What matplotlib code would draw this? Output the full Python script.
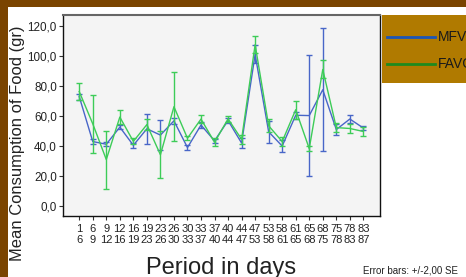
import matplotlib
matplotlib.use("Agg")
import matplotlib.pyplot as plt
from matplotlib import font_manager as fm
from matplotlib.patches import Rectangle
from matplotlib.lines import Line2D

periods_lo = [1, 6, 9, 12, 16, 19, 23, 26, 30, 33, 37, 40, 44, 47, 53, 58, 61, 65, 68, 75, 78, 83]
periods_hi = [6, 9, 12, 16, 19, 23, 26, 30, 33, 37, 40, 44, 47, 53, 58, 61, 65, 68, 75, 78, 83, 87]

mfvc_mean = [72.9, 43.0, 41.2, 52.6, 40.5, 51.5, 47.3, 56.8, 39.0, 54.0, 43.5, 57.0, 42.0, 101.0,
             49.5, 40.0, 60.5, 60.3, 77.5, 51.0, 58.0, 52.0]
mfvc_err = [2.1, 1.4, 1.4, 1.2, 1.5, 10.0, 10.2, 2.0, 1.4, 1.8, 1.5, 1.5, 3.5, 6.0,
            7.5, 4.0, 2.2, 40.4, 41.0, 3.8, 2.8, 1.3]
favc_mean = [76.3, 54.8, 31.0, 59.3, 43.1, 54.3, 34.2, 66.2, 45.2, 58.0, 42.5, 58.1, 44.5, 107.5,
             53.5, 43.0, 64.2, 38.3, 91.0, 52.3, 51.7, 49.7]
favc_err = [5.5, 19.2, 19.3, 4.5, 2.0, 3.9, 15.8, 22.8, 1.4, 2.8, 2.7, 2.2, 3.0, 5.7,
            4.2, 3.3, 6.0, 1.6, 6.0, 3.0, 3.1, 3.3]

yticks = [0, 20, 40, 60, 80, 100, 120]
ytick_labels = ["0,0", "20,0", "40,0", "60,0", "80,0", "100,0", "120,0"]

names = {f.name for f in fm.fontManager.ttflist}
narrow = "Liberation Sans Narrow" if "Liberation Sans Narrow" in names else "Liberation Sans"
plt.rcParams['font.family'] = ['Liberation Sans', 'DejaVu Sans']

W, H = 466, 277
fig = plt.figure(figsize=(W / 100, H / 100), dpi=100, facecolor='#7A4400')
# white inner area
fig.patches.append(Rectangle((8 / W, 0), 1, 1 - 7 / H, transform=fig.transFigure,
                             facecolor='white', edgecolor='none', zorder=-5))

ax = fig.add_axes([63 / W, 1 - 216 / H, (380 - 63) / W, (216 - 15) / H])
ax.set_zorder(2)
ax.set_facecolor('#F4F4F4')

x = list(range(len(periods_lo)))
blue = '#4866C8'
green = '#3DCC58'
ax.errorbar(x, mfvc_mean, yerr=mfvc_err, color=blue, lw=1.0, elinewidth=1.0,
            capsize=2, capthick=1.0, zorder=3)
ax.errorbar(x, favc_mean, yerr=favc_err, color=green, lw=1.0, elinewidth=1.0,
            capsize=2, capthick=1.0, zorder=4)

ax.set_xlim(-1.2, len(x) - 1 + 1.23)
ax.set_ylim(-6.6, 127.3)
ax.set_yticks(yticks)
yfs = 9.7 if narrow != "Liberation Sans" else 8.4
ax.set_yticklabels(ytick_labels, fontfamily=narrow, fontsize=yfs, color='#222222')
ax.set_xticks(x)
xfs = 9.7 if narrow != "Liberation Sans" else 8.0
ax.set_xticklabels([f"{a}\n{b}" for a, b in zip(periods_lo, periods_hi)],
                   fontfamily=narrow, fontsize=xfs, color='#222222', linespacing=1.05)
ax.tick_params(axis='both', direction='out', length=3, width=0.8, color='#333333')
ax.tick_params(axis='y', pad=1.5)
ax.tick_params(axis='x', pad=3)
for s in ['left', 'bottom', 'right']:
    ax.spines[s].set_color('#111111')
    ax.spines[s].set_linewidth(1.0)
ax.spines['top'].set_color('#666666')
ax.spines['top'].set_linewidth(1.5)

fig.text(18 / W, 1 - 143 / H, "Mean Consumption of Food (gr)", rotation=90,
         ha='center', va='center', fontsize=11.9, color='#222222')
fig.text(221 / W, 1 - 268 / H, "Period in days", ha='center', va='center',
         fontsize=17, color='#222222')
fig.text(458 / W, 1 - 270.5 / H, "Error bars: +/-2,00 SE", ha='right', va='center',
         fontsize=7, color='#222222')

# legend box
fig.patches.append(Rectangle((382 / W, 1 - 83 / H), (W - 382) / W, (83 - 15) / H,
                             transform=fig.transFigure, facecolor='#B07A00',
                             edgecolor='none', zorder=1))
legend_items = [("MFVC", '#1A55B8', 36.7), ("FAVC", '#1E8A1E', 63.7)]
for label, col, yy in legend_items:
    fig.lines.append(Line2D([387 / W, 435 / W], [1 - yy / H, 1 - yy / H],
                            transform=fig.transFigure, color=col, lw=2, zorder=2))
    fig.text(438 / W, 1 - yy / H, label, ha='left', va='center', fontsize=10,
             color='#1A1A1A', zorder=3)

fig.savefig("out.png", dpi=100, facecolor=fig.get_facecolor())
